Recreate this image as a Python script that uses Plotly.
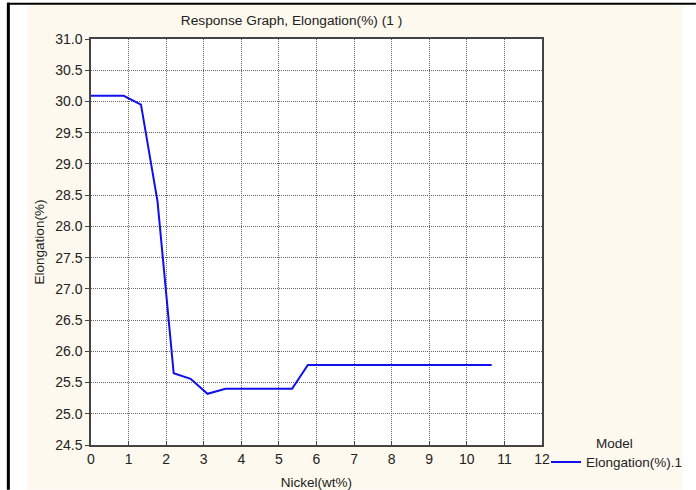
import plotly.graph_objects as go

# ---- data ----
nickel = [0.0, 0.87, 1.33, 1.60, 1.77, 2.20, 2.65, 3.10, 3.58, 5.35, 5.77, 10.66]
elongation = [30.09, 30.09, 29.95, 28.97, 28.40, 25.65, 25.56, 25.32, 25.40, 25.40, 25.78, 25.78]
x_ticks = list(range(0, 13))
y_ticks = [24.5 + 0.5 * i for i in range(14)]
y_tick_labels = [f"{v:.1f}" for v in y_ticks]

W, H = 696, 490
L, R, T, B = 90.7, 154, 39.3, 44.7
pw, ph = W - L - R, H - T - B

def px_x(p):
    return (p - L) / pw

def px_y(p):
    return (H - B - p) / ph

font = "Liberation Sans, Arial, sans-serif"

fig = go.Figure()
fig.add_trace(go.Scatter(
    x=nickel, y=elongation, mode="lines",
    line=dict(color="#1010EE", width=2),
    name="Elongation(%).1",
))

grid = dict(showgrid=True, gridcolor="#666", griddash="1px,1px", gridwidth=1)

fig.update_layout(
    width=W, height=H,
    margin=dict(l=L, r=R, t=T, b=B, autoexpand=False),
    paper_bgcolor="white", plot_bgcolor="white",
    font=dict(family=font, size=14, color="#222"),
    title=dict(text="Response Graph, Elongation(%) (1 )",
               x=291.5 / W, xanchor="center", xref="container",
               y=1 - 20 / H, yanchor="middle", yref="container",
               font=dict(size=13.7, color="#222")),
    showlegend=True,
    legend=dict(
        x=px_x(546), y=px_y(447), xanchor="left", yanchor="top",
        bgcolor="rgba(0,0,0,0)", borderwidth=0,
        font=dict(size=13.5, color="#222"),
        itemwidth=30, tracegroupgap=0,
    ),
    annotations=[
        dict(text="Model", xref="paper", yref="paper",
             x=px_x(615), y=px_y(444), xanchor="center", yanchor="middle",
             showarrow=False, font=dict(size=13.5, color="#222")),
    ],
    xaxis=dict(
        range=[0, 12], tickvals=x_ticks, ticktext=[str(v) for v in x_ticks],
        showline=True, linecolor="#444", linewidth=1.5, mirror=True,
        ticks="inside", ticklen=4, tickcolor="#444",
        zeroline=False,
        title=dict(text="Nickel(wt%)", standoff=16, font=dict(size=13.5)),
        tickfont=dict(size=14),
        **grid,
    ),
    yaxis=dict(
        range=[24.5, 31.0], tickvals=y_ticks, ticktext=y_tick_labels,
        showline=True, linecolor="#444", linewidth=1.5, mirror=True,
        ticks="outside", ticklen=4, tickcolor="#444",
        zeroline=False,
        title=dict(text="Elongation(%)", standoff=7, font=dict(size=13.5)),
        tickfont=dict(size=14),
        **grid,
    ),
    shapes=[
        # cream background panel
        dict(type="rect", xref="paper", yref="paper", layer="below",
             x0=px_x(27), x1=px_x(683), y0=px_y(490), y1=px_y(5),
             fillcolor="#FEF9EE", line=dict(width=0)),
        # white plot area on top of panel
        dict(type="rect", xref="paper", yref="paper", layer="below",
             x0=0, x1=1, y0=0, y1=1,
             fillcolor="white", line=dict(width=0)),
        # outer frame lines
        dict(type="line", xref="paper", yref="paper",
             x0=px_x(8), x1=px_x(8), y0=px_y(3), y1=px_y(490),
             line=dict(color="black", width=3)),
        dict(type="line", xref="paper", yref="paper",
             x0=px_x(7), x1=px_x(696), y0=px_y(4), y1=px_y(4),
             line=dict(color="black", width=2)),
    ],
)

fig.write_html(
    "out.html",
    config={"displayModeBar": False},
    post_script="document.body.style.margin='0';document.body.style.padding='0';"
                "document.body.style.overflow='hidden';",
)
